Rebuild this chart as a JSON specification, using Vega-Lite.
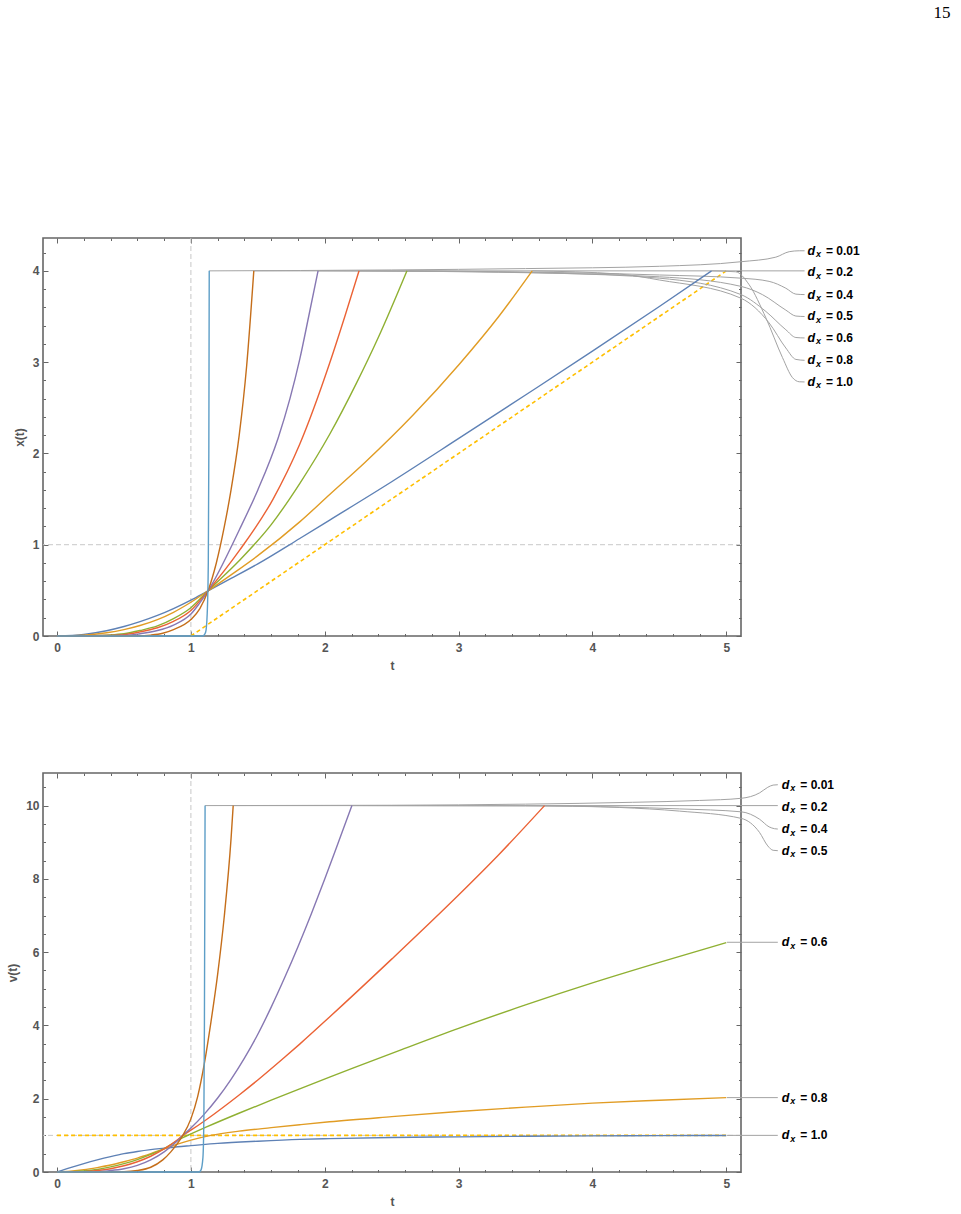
{
"$schema": "https://vega.github.io/schema/vega-lite/v6.json",
"background": "white",
"padding": {"left": 5, "top": 4, "right": 5, "bottom": 5},
"title": {"text": "15", "anchor": "end", "frame": "bounds", "font": "Liberation Serif", "fontSize": 17, "fontWeight": "normal", "color": "#000", "offset": 214.5, "dx": 90},
"config": {
  "view": {"stroke": "#666", "strokeWidth": 1.6},
  "axis": {"domain": false, "grid": false, "tickColor": "#666", "tickWidth": 1, "labelFont": "Liberation Sans", "labelFontSize": 12, "labelFontWeight": "bold", "labelColor": "#555", "titleFont": "Liberation Sans", "titleFontSize": 12, "titleFontWeight": "bold", "titleColor": "#555", "labelFlush": false, "labelOverlap": false}
},
"datasets": {
  "xt": [
    {"d":"1.0","t":0,"x":0},{"d":"1.0","t":0.2,"x":0.018},{"d":"1.0","t":0.37,"x":0.058},{"d":"1.0","t":0.5,"x":0.104},{"d":"1.0","t":0.62,"x":0.157},{"d":"1.0","t":0.75,"x":0.225},{"d":"1.0","t":0.87,"x":0.3},{"d":"1.0","t":1.0,"x":0.393},{"d":"1.0","t":1.128,"x":0.495},{"d":"1.0","t":1.3,"x":0.63},{"d":"1.0","t":1.5,"x":0.79},{"d":"1.0","t":1.813,"x":1.068},{"d":"1.0","t":2.037,"x":1.27},{"d":"1.0","t":2.5,"x":1.69},{"d":"1.0","t":3.007,"x":2.17},{"d":"1.0","t":3.5,"x":2.64},{"d":"1.0","t":4.0,"x":3.12},{"d":"1.0","t":4.5,"x":3.61},{"d":"1.0","t":4.89,"x":4.0},
    {"d":"0.8","t":0,"x":0},{"d":"0.8","t":0.2,"x":0.008},{"d":"0.8","t":0.37,"x":0.035},{"d":"0.8","t":0.5,"x":0.07},{"d":"0.8","t":0.62,"x":0.115},{"d":"0.8","t":0.75,"x":0.18},{"d":"0.8","t":0.87,"x":0.26},{"d":"0.8","t":1.0,"x":0.37},{"d":"0.8","t":1.128,"x":0.495},{"d":"0.8","t":1.3,"x":0.67},{"d":"0.8","t":1.5,"x":0.88},{"d":"0.8","t":1.813,"x":1.25},{"d":"0.8","t":2.037,"x":1.55},{"d":"0.8","t":2.3,"x":1.9},{"d":"0.8","t":2.66,"x":2.42},{"d":"0.8","t":3.007,"x":2.98},{"d":"0.8","t":3.3,"x":3.5},{"d":"0.8","t":3.55,"x":4.0},
    {"d":"0.6","t":0,"x":0},{"d":"0.6","t":0.2,"x":0.001},{"d":"0.6","t":0.37,"x":0.01},{"d":"0.6","t":0.5,"x":0.025},{"d":"0.6","t":0.62,"x":0.06},{"d":"0.6","t":0.75,"x":0.11},{"d":"0.6","t":0.87,"x":0.19},{"d":"0.6","t":1.0,"x":0.31},{"d":"0.6","t":1.128,"x":0.495},{"d":"0.6","t":1.364,"x":0.83},{"d":"0.6","t":1.6,"x":1.22},{"d":"0.6","t":1.813,"x":1.67},{"d":"0.6","t":2.037,"x":2.21},{"d":"0.6","t":2.237,"x":2.77},{"d":"0.6","t":2.4,"x":3.27},{"d":"0.6","t":2.614,"x":4.0},
    {"d":"0.5","t":0,"x":0},{"d":"0.5","t":0.37,"x":0.005},{"d":"0.5","t":0.5,"x":0.015},{"d":"0.5","t":0.62,"x":0.045},{"d":"0.5","t":0.75,"x":0.09},{"d":"0.5","t":0.87,"x":0.16},{"d":"0.5","t":1.0,"x":0.28},{"d":"0.5","t":1.128,"x":0.495},{"d":"0.5","t":1.364,"x":0.94},{"d":"0.5","t":1.614,"x":1.5},{"d":"0.5","t":1.813,"x":2.1},{"d":"0.5","t":2.037,"x":2.99},{"d":"0.5","t":2.15,"x":3.5},{"d":"0.5","t":2.256,"x":4.0},
    {"d":"0.4","t":0,"x":0},{"d":"0.4","t":0.5,"x":0.005},{"d":"0.4","t":0.62,"x":0.025},{"d":"0.4","t":0.75,"x":0.06},{"d":"0.4","t":0.87,"x":0.12},{"d":"0.4","t":1.0,"x":0.24},{"d":"0.4","t":1.06,"x":0.35},{"d":"0.4","t":1.128,"x":0.495},{"d":"0.4","t":1.364,"x":1.17},{"d":"0.4","t":1.5,"x":1.6},{"d":"0.4","t":1.652,"x":2.17},{"d":"0.4","t":1.74,"x":2.6},{"d":"0.4","t":1.813,"x":3.03},{"d":"0.4","t":1.88,"x":3.5},{"d":"0.4","t":1.95,"x":4.0},
    {"d":"0.2","t":0,"x":0},{"d":"0.2","t":0.6,"x":0.002},{"d":"0.2","t":0.7,"x":0.01},{"d":"0.2","t":0.79,"x":0.03},{"d":"0.2","t":0.87,"x":0.07},{"d":"0.2","t":1.0,"x":0.18},{"d":"0.2","t":1.067,"x":0.3},{"d":"0.2","t":1.128,"x":0.495},{"d":"0.2","t":1.19,"x":0.8},{"d":"0.2","t":1.25,"x":1.2},{"d":"0.2","t":1.3,"x":1.6},{"d":"0.2","t":1.361,"x":2.2},{"d":"0.2","t":1.416,"x":2.95},{"d":"0.2","t":1.47,"x":4.0},
    {"d":"0.01","t":0,"x":0},{"d":"0.01","t":1.09,"x":0},{"d":"0.01","t":1.11,"x":0.04},{"d":"0.01","t":1.122,"x":0.25},{"d":"0.01","t":1.13,"x":0.8},{"d":"0.01","t":1.134,"x":2.0},{"d":"0.01","t":1.137,"x":4.0}
  ],
  "xd": [{"t":1,"x":0},{"t":5,"x":4}],
  "callx": [
    {"d":"0.01","t":1.137,"y":4.0},{"d":"0.01","t":2.5,"y":4.01},{"d":"0.01","t":3.5,"y":4.025},{"d":"0.01","t":4.5,"y":4.05},{"d":"0.01","t":5.11,"y":4.1},{"d":"0.01","t":5.37,"y":4.15},{"d":"0.01","t":5.47,"y":4.21},{"d":"0.01","t":5.545,"y":4.22},{"d":"0.01","t":5.585,"y":4.22},
    {"d":"0.2","t":1.47,"y":4.0},{"d":"0.2","t":5.585,"y":4.0},
    {"d":"0.4","t":1.95,"y":4.0},{"d":"0.4","t":3.3,"y":3.99},{"d":"0.4","t":4.5,"y":3.955},{"d":"0.4","t":5.11,"y":3.92},{"d":"0.4","t":5.32,"y":3.885},{"d":"0.4","t":5.445,"y":3.81},{"d":"0.4","t":5.52,"y":3.745},{"d":"0.4","t":5.585,"y":3.74},
    {"d":"0.5","t":2.256,"y":4.0},{"d":"0.5","t":3.3,"y":3.985},{"d":"0.5","t":4.5,"y":3.935},{"d":"0.5","t":5.11,"y":3.83},{"d":"0.5","t":5.27,"y":3.74},{"d":"0.5","t":5.445,"y":3.57},{"d":"0.5","t":5.52,"y":3.505},{"d":"0.5","t":5.585,"y":3.5},
    {"d":"0.6","t":2.614,"y":4.0},{"d":"0.6","t":3.7,"y":3.975},{"d":"0.6","t":4.5,"y":3.92},{"d":"0.6","t":5.11,"y":3.74},{"d":"0.6","t":5.296,"y":3.555},{"d":"0.6","t":5.445,"y":3.355},{"d":"0.6","t":5.52,"y":3.27},{"d":"0.6","t":5.585,"y":3.265},
    {"d":"0.8","t":3.55,"y":4.0},{"d":"0.8","t":4.2,"y":3.965},{"d":"0.8","t":4.5,"y":3.9},{"d":"0.8","t":5.11,"y":3.7},{"d":"0.8","t":5.32,"y":3.43},{"d":"0.8","t":5.445,"y":3.155},{"d":"0.8","t":5.52,"y":3.03},{"d":"0.8","t":5.585,"y":3.02},
    {"d":"1.0","t":4.89,"y":4.0},{"d":"1.0","t":5.07,"y":3.99},{"d":"1.0","t":5.17,"y":3.85},{"d":"1.0","t":5.296,"y":3.485},{"d":"1.0","t":5.42,"y":3.05},{"d":"1.0","t":5.495,"y":2.83},{"d":"1.0","t":5.545,"y":2.785},{"d":"1.0","t":5.585,"y":2.783}
  ],
  "labx": [
    {"d":"0.01","t":5.606,"y":4.22,"lab":"= 0.01"},{"d":"0.2","t":5.606,"y":3.983,"lab":"= 0.2"},{"d":"0.4","t":5.606,"y":3.739,"lab":"= 0.4"},{"d":"0.5","t":5.606,"y":3.501,"lab":"= 0.5"},{"d":"0.6","t":5.606,"y":3.265,"lab":"= 0.6"},{"d":"0.8","t":5.606,"y":3.02,"lab":"= 0.8"},{"d":"1.0","t":5.606,"y":2.783,"lab":"= 1.0"}
  ],
  "vt": [
    {"d":"1.0","t":0,"v":0},{"d":"1.0","t":0.1,"v":0.12},{"d":"1.0","t":0.2,"v":0.23},{"d":"1.0","t":0.3,"v":0.33},{"d":"1.0","t":0.4,"v":0.42},{"d":"1.0","t":0.5,"v":0.5},{"d":"1.0","t":0.6,"v":0.56},{"d":"1.0","t":0.7,"v":0.61},{"d":"1.0","t":0.8,"v":0.65},{"d":"1.0","t":0.9,"v":0.69},{"d":"1.0","t":1.0,"v":0.72},{"d":"1.0","t":1.2,"v":0.78},{"d":"1.0","t":1.5,"v":0.84},{"d":"1.0","t":1.813,"v":0.89},{"d":"1.0","t":2.036,"v":0.91},{"d":"1.0","t":2.5,"v":0.94},{"d":"1.0","t":3,"v":0.96},{"d":"1.0","t":3.5,"v":0.975},{"d":"1.0","t":4,"v":0.985},{"d":"1.0","t":4.5,"v":0.992},{"d":"1.0","t":5,"v":0.997},
    {"d":"0.8","t":0,"v":0},{"d":"0.8","t":0.1,"v":0.02},{"d":"0.8","t":0.2,"v":0.06},{"d":"0.8","t":0.3,"v":0.12},{"d":"0.8","t":0.4,"v":0.19},{"d":"0.8","t":0.5,"v":0.28},{"d":"0.8","t":0.6,"v":0.38},{"d":"0.8","t":0.7,"v":0.5},{"d":"0.8","t":0.8,"v":0.63},{"d":"0.8","t":0.9,"v":0.76},{"d":"0.8","t":1.0,"v":0.87},{"d":"0.8","t":1.15,"v":1.0},{"d":"0.8","t":1.36,"v":1.115},{"d":"0.8","t":1.6,"v":1.21},{"d":"0.8","t":1.813,"v":1.29},{"d":"0.8","t":2.036,"v":1.37},{"d":"0.8","t":2.5,"v":1.51},{"d":"0.8","t":3.0,"v":1.65},{"d":"0.8","t":3.5,"v":1.77},{"d":"0.8","t":4.0,"v":1.88},{"d":"0.8","t":4.5,"v":1.96},{"d":"0.8","t":5.0,"v":2.03},
    {"d":"0.6","t":0,"v":0},{"d":"0.6","t":0.1,"v":0.005},{"d":"0.6","t":0.2,"v":0.03},{"d":"0.6","t":0.3,"v":0.07},{"d":"0.6","t":0.4,"v":0.14},{"d":"0.6","t":0.5,"v":0.23},{"d":"0.6","t":0.6,"v":0.34},{"d":"0.6","t":0.7,"v":0.48},{"d":"0.6","t":0.8,"v":0.64},{"d":"0.6","t":0.9,"v":0.86},{"d":"0.6","t":0.94,"v":0.94},{"d":"0.6","t":1.0,"v":1.04},{"d":"0.6","t":1.117,"v":1.23},{"d":"0.6","t":1.363,"v":1.61},{"d":"0.6","t":1.6,"v":1.96},{"d":"0.6","t":1.813,"v":2.27},{"d":"0.6","t":2.036,"v":2.59},{"d":"0.6","t":2.21,"v":2.835},{"d":"0.6","t":2.56,"v":3.32},{"d":"0.6","t":3.0,"v":3.92},{"d":"0.6","t":3.5,"v":4.56},{"d":"0.6","t":4.0,"v":5.16},{"d":"0.6","t":4.5,"v":5.72},{"d":"0.6","t":5.0,"v":6.26},
    {"d":"0.5","t":0,"v":0},{"d":"0.5","t":0.2,"v":0.01},{"d":"0.5","t":0.3,"v":0.04},{"d":"0.5","t":0.4,"v":0.09},{"d":"0.5","t":0.5,"v":0.17},{"d":"0.5","t":0.6,"v":0.28},{"d":"0.5","t":0.7,"v":0.43},{"d":"0.5","t":0.8,"v":0.63},{"d":"0.5","t":0.9,"v":0.88},{"d":"0.5","t":0.94,"v":1.0},{"d":"0.5","t":1.0,"v":1.141},{"d":"0.5","t":1.117,"v":1.434},{"d":"0.5","t":1.363,"v":2.11},{"d":"0.5","t":1.5,"v":2.51},{"d":"0.5","t":1.7,"v":3.13},{"d":"0.5","t":1.813,"v":3.49},{"d":"0.5","t":2.036,"v":4.23},{"d":"0.5","t":2.5,"v":5.81},{"d":"0.5","t":3.0,"v":7.56},{"d":"0.5","t":3.3,"v":8.66},{"d":"0.5","t":3.642,"v":10.0},
    {"d":"0.4","t":0,"v":0},{"d":"0.4","t":0.3,"v":0.01},{"d":"0.4","t":0.4,"v":0.04},{"d":"0.4","t":0.5,"v":0.09},{"d":"0.4","t":0.6,"v":0.18},{"d":"0.4","t":0.7,"v":0.33},{"d":"0.4","t":0.8,"v":0.55},{"d":"0.4","t":0.9,"v":0.85},{"d":"0.4","t":0.94,"v":1.0},{"d":"0.4","t":1.0,"v":1.2},{"d":"0.4","t":1.1,"v":1.58},{"d":"0.4","t":1.2,"v":2.02},{"d":"0.4","t":1.3,"v":2.53},{"d":"0.4","t":1.4,"v":3.11},{"d":"0.4","t":1.5,"v":3.76},{"d":"0.4","t":1.6,"v":4.5},{"d":"0.4","t":1.7,"v":5.3},{"d":"0.4","t":1.8,"v":6.15},{"d":"0.4","t":1.9,"v":7.05},{"d":"0.4","t":2.0,"v":8.0},{"d":"0.4","t":2.1,"v":8.98},{"d":"0.4","t":2.203,"v":10.0},
    {"d":"0.2","t":0,"v":0},{"d":"0.2","t":0.4,"v":0},{"d":"0.2","t":0.5,"v":0.005},{"d":"0.2","t":0.6,"v":0.04},{"d":"0.2","t":0.7,"v":0.13},{"d":"0.2","t":0.79,"v":0.33},{"d":"0.2","t":0.85,"v":0.55},{"d":"0.2","t":0.9,"v":0.78},{"d":"0.2","t":0.94,"v":1.0},{"d":"0.2","t":1.0,"v":1.45},{"d":"0.2","t":1.05,"v":2.05},{"d":"0.2","t":1.1,"v":2.95},{"d":"0.2","t":1.15,"v":4.1},{"d":"0.2","t":1.2,"v":5.4},{"d":"0.2","t":1.25,"v":7.0},{"d":"0.2","t":1.3,"v":9.1},{"d":"0.2","t":1.316,"v":10.0},
    {"d":"0.01","t":0,"v":0},{"d":"0.01","t":1.06,"v":0},{"d":"0.01","t":1.075,"v":0.05},{"d":"0.01","t":1.09,"v":0.4},{"d":"0.01","t":1.097,"v":1.5},{"d":"0.01","t":1.101,"v":4.0},{"d":"0.01","t":1.106,"v":10.0}
  ],
  "vd": [{"t":0,"v":1},{"t":5,"v":1}],
  "callv": [
    {"d":"0.01","t":1.106,"y":10.0},{"d":"0.01","t":2.5,"y":10.01},{"d":"0.01","t":3.5,"y":10.04},{"d":"0.01","t":4.3,"y":10.09},{"d":"0.01","t":4.8,"y":10.14},{"d":"0.01","t":5.113,"y":10.2},{"d":"0.01","t":5.25,"y":10.35},{"d":"0.01","t":5.31,"y":10.5},{"d":"0.01","t":5.35,"y":10.56},{"d":"0.01","t":5.385,"y":10.57},
    {"d":"0.2","t":1.316,"y":10.0},{"d":"0.2","t":5.385,"y":10.0},
    {"d":"0.4","t":2.203,"y":10.0},{"d":"0.4","t":3.5,"y":9.99},{"d":"0.4","t":4.2,"y":9.96},{"d":"0.4","t":4.65,"y":9.91},{"d":"0.4","t":5.113,"y":9.83},{"d":"0.4","t":5.248,"y":9.63},{"d":"0.4","t":5.32,"y":9.42},{"d":"0.4","t":5.36,"y":9.37},{"d":"0.4","t":5.385,"y":9.36},
    {"d":"0.5","t":3.642,"y":10.0},{"d":"0.5","t":4.2,"y":9.95},{"d":"0.5","t":4.65,"y":9.85},{"d":"0.5","t":5.113,"y":9.65},{"d":"0.5","t":5.248,"y":9.27},{"d":"0.5","t":5.31,"y":8.9},{"d":"0.5","t":5.35,"y":8.78},{"d":"0.5","t":5.385,"y":8.77},
    {"d":"0.6","t":5.005,"y":6.27},{"d":"0.6","t":5.385,"y":6.27},
    {"d":"0.8","t":5.005,"y":2.03},{"d":"0.8","t":5.385,"y":2.03},
    {"d":"1.0","t":5.005,"y":1.0},{"d":"1.0","t":5.385,"y":1.0}
  ],
  "labv": [
    {"d":"0.01","t":5.415,"y":10.57,"lab":"= 0.01"},{"d":"0.2","t":5.415,"y":9.97,"lab":"= 0.2"},{"d":"0.4","t":5.415,"y":9.36,"lab":"= 0.4"},{"d":"0.5","t":5.415,"y":8.77,"lab":"= 0.5"},{"d":"0.6","t":5.415,"y":6.27,"lab":"= 0.6"},{"d":"0.8","t":5.415,"y":2.03,"lab":"= 0.8"},{"d":"1.0","t":5.415,"y":1.0,"lab":"= 1.0"}
  ]
},
"spacing": 98,
"vconcat": [
  {
    "width": 698, "height": 398,
    "resolve": {"axis": {"x": "independent", "y": "independent"}},
    "layer": [
      {"data": {"values": [{}]}, "mark": {"type": "rule", "color": "#c8c8c8", "strokeDash": [5, 3], "strokeWidth": 1},
       "encoding": {"x": {"datum": 1, "type": "quantitative", "scale": {"domain": [-0.105, 5.11], "nice": false, "zero": false},
         "axis": {"orient": "bottom", "values": [0,0.2,0.4,0.6,0.8,1,1.2,1.4,1.6,1.8,2,2.2,2.4,2.6,2.8,3,3.2,3.4,3.6,3.8,4,4.2,4.4,4.6,4.8,5], "labelExpr": "abs(datum.value-round(datum.value))<0.001 ? format(datum.value,'d') : ''", "tickSize": {"condition": {"test": "abs(datum.value-round(datum.value))<0.001", "value": -5}, "value": -2.5}, "labelPadding": 11, "title": "t", "titlePadding": 5}}}},
      {"data": {"values": [{}]}, "mark": {"type": "rule", "color": "#c8c8c8", "strokeDash": [5, 3], "strokeWidth": 1},
       "encoding": {"y": {"datum": 1, "type": "quantitative", "scale": {"domain": [0, 4.36], "nice": false, "zero": false},
         "axis": {"orient": "left", "values": [0,0.2,0.4,0.6,0.8,1,1.2,1.4,1.6,1.8,2,2.2,2.4,2.6,2.8,3,3.2,3.4,3.6,3.8,4,4.2], "labelExpr": "abs(datum.value-round(datum.value))<0.001 ? format(datum.value,'d') : ''", "tickSize": {"condition": {"test": "abs(datum.value-round(datum.value))<0.001", "value": -5}, "value": -2.5}, "labelPadding": 9, "title": "x(t)", "titlePadding": 6}}}},
      {"data": {"name": "xd"}, "mark": {"type": "line", "color": "#FFBF00", "strokeDash": [4, 3], "strokeWidth": 1.6},
       "encoding": {"x": {"field": "t", "type": "quantitative", "scale": {"domain": [-0.105, 5.11], "nice": false, "zero": false}, "axis": null},
                    "y": {"field": "x", "type": "quantitative", "scale": {"domain": [0, 4.36], "nice": false, "zero": false}, "axis": null}}},
      {"data": {"name": "callx"}, "mark": {"type": "line", "color": "#a3a3a3", "strokeWidth": 1, "interpolate": "monotone", "clip": false},
       "encoding": {"x": {"field": "t", "type": "quantitative", "scale": {"domain": [-0.105, 5.11], "nice": false, "zero": false}, "axis": null},
                    "y": {"field": "y", "type": "quantitative", "scale": {"domain": [0, 4.36], "nice": false, "zero": false}, "axis": null},
                    "detail": {"field": "d", "type": "nominal"}}},
      {"data": {"name": "xt"}, "mark": {"type": "line", "strokeWidth": 1.4, "interpolate": "monotone"},
       "encoding": {"x": {"field": "t", "type": "quantitative", "scale": {"domain": [-0.105, 5.11], "nice": false, "zero": false},
                      "axis": {"orient": "top", "values": [0,0.2,0.4,0.6,0.8,1,1.2,1.4,1.6,1.8,2,2.2,2.4,2.6,2.8,3,3.2,3.4,3.6,3.8,4,4.2,4.4,4.6,4.8,5], "labels": false, "title": null, "tickSize": {"condition": {"test": "abs(datum.value-round(datum.value))<0.001", "value": -5}, "value": -2.5}}},
                    "y": {"field": "x", "type": "quantitative", "scale": {"domain": [0, 4.36], "nice": false, "zero": false},
                      "axis": {"orient": "right", "values": [0,0.2,0.4,0.6,0.8,1,1.2,1.4,1.6,1.8,2,2.2,2.4,2.6,2.8,3,3.2,3.4,3.6,3.8,4,4.2], "labels": false, "title": null, "tickSize": {"condition": {"test": "abs(datum.value-round(datum.value))<0.001", "value": -5}, "value": -2.5}}},
                    "color": {"field": "d", "type": "nominal", "scale": {"domain": ["1.0","0.8","0.6","0.5","0.4","0.2","0.01"], "range": ["#5E81B5","#E19C24","#8FB032","#EB6235","#8778B3","#C56E1A","#5D9EC7"]}, "legend": null}}},
      {"data": {"name": "labx"}, "mark": {"type": "text", "text": "d", "font": "Liberation Sans", "fontSize": 12.5, "fontWeight": "bold", "fontStyle": "italic", "align": "left", "baseline": "middle", "clip": false, "color": "#000"},
       "encoding": {"x": {"field": "t", "type": "quantitative", "scale": {"domain": [-0.105, 5.11], "nice": false, "zero": false}, "axis": null},
                    "y": {"field": "y", "type": "quantitative", "scale": {"domain": [0, 4.36], "nice": false, "zero": false}, "axis": null}}},
      {"data": {"name": "labx"}, "mark": {"type": "text", "text": "x", "font": "Liberation Sans", "fontSize": 9, "fontWeight": "bold", "fontStyle": "italic", "align": "left", "baseline": "middle", "dx": 8.5, "dy": 3.5, "clip": false, "color": "#000"},
       "encoding": {"x": {"field": "t", "type": "quantitative", "scale": {"domain": [-0.105, 5.11], "nice": false, "zero": false}, "axis": null},
                    "y": {"field": "y", "type": "quantitative", "scale": {"domain": [0, 4.36], "nice": false, "zero": false}, "axis": null}}},
      {"data": {"name": "labx"}, "mark": {"type": "text", "font": "Liberation Sans", "fontSize": 12, "fontWeight": "bold", "align": "left", "baseline": "middle", "dx": 18.5, "clip": false, "color": "#000"},
       "encoding": {"x": {"field": "t", "type": "quantitative", "scale": {"domain": [-0.105, 5.11], "nice": false, "zero": false}, "axis": null},
                    "y": {"field": "y", "type": "quantitative", "scale": {"domain": [0, 4.36], "nice": false, "zero": false}, "axis": null},
                    "text": {"field": "lab", "type": "nominal"}}}
    ]
  },
  {
    "width": 698, "height": 399,
    "resolve": {"axis": {"x": "independent", "y": "independent"}},
    "layer": [
      {"data": {"values": [{}]}, "mark": {"type": "rule", "color": "#c8c8c8", "strokeDash": [5, 3], "strokeWidth": 1},
       "encoding": {"x": {"datum": 1, "type": "quantitative", "scale": {"domain": [-0.105, 5.11], "nice": false, "zero": false},
         "axis": {"orient": "bottom", "values": [0,0.2,0.4,0.6,0.8,1,1.2,1.4,1.6,1.8,2,2.2,2.4,2.6,2.8,3,3.2,3.4,3.6,3.8,4,4.2,4.4,4.6,4.8,5], "labelExpr": "abs(datum.value-round(datum.value))<0.001 ? format(datum.value,'d') : ''", "tickSize": {"condition": {"test": "abs(datum.value-round(datum.value))<0.001", "value": -5}, "value": -2.5}, "labelPadding": 11, "title": "t", "titlePadding": 5}}}},
      {"data": {"values": [{}]}, "mark": {"type": "rule", "color": "#c8c8c8", "strokeDash": [5, 3], "strokeWidth": 1},
       "encoding": {"y": {"datum": 1, "type": "quantitative", "scale": {"domain": [0, 10.89], "nice": false, "zero": false},
         "axis": {"orient": "left", "values": [0,0.5,1,1.5,2,2.5,3,3.5,4,4.5,5,5.5,6,6.5,7,7.5,8,8.5,9,9.5,10,10.5], "labelExpr": "datum.value % 2 === 0 ? format(datum.value,'d') : ''", "tickSize": {"condition": {"test": "datum.value % 2 === 0", "value": -5}, "value": -2.5}, "labelPadding": 9, "title": "v(t)", "titlePadding": 6}}}},
      {"data": {"name": "vd"}, "mark": {"type": "line", "color": "#FFBF00", "strokeDash": [4, 3], "strokeWidth": 1.6},
       "encoding": {"x": {"field": "t", "type": "quantitative", "scale": {"domain": [-0.105, 5.11], "nice": false, "zero": false}, "axis": null},
                    "y": {"field": "v", "type": "quantitative", "scale": {"domain": [0, 10.89], "nice": false, "zero": false}, "axis": null}}},
      {"data": {"name": "callv"}, "mark": {"type": "line", "color": "#a3a3a3", "strokeWidth": 1, "interpolate": "monotone", "clip": false},
       "encoding": {"x": {"field": "t", "type": "quantitative", "scale": {"domain": [-0.105, 5.11], "nice": false, "zero": false}, "axis": null},
                    "y": {"field": "y", "type": "quantitative", "scale": {"domain": [0, 10.89], "nice": false, "zero": false}, "axis": null},
                    "detail": {"field": "d", "type": "nominal"}}},
      {"data": {"name": "vt"}, "mark": {"type": "line", "strokeWidth": 1.4, "interpolate": "monotone"},
       "encoding": {"x": {"field": "t", "type": "quantitative", "scale": {"domain": [-0.105, 5.11], "nice": false, "zero": false},
                      "axis": {"orient": "top", "values": [0,0.2,0.4,0.6,0.8,1,1.2,1.4,1.6,1.8,2,2.2,2.4,2.6,2.8,3,3.2,3.4,3.6,3.8,4,4.2,4.4,4.6,4.8,5], "labels": false, "title": null, "tickSize": {"condition": {"test": "abs(datum.value-round(datum.value))<0.001", "value": -5}, "value": -2.5}}},
                    "y": {"field": "v", "type": "quantitative", "scale": {"domain": [0, 10.89], "nice": false, "zero": false},
                      "axis": {"orient": "right", "values": [0,0.5,1,1.5,2,2.5,3,3.5,4,4.5,5,5.5,6,6.5,7,7.5,8,8.5,9,9.5,10,10.5], "labels": false, "title": null, "tickSize": {"condition": {"test": "datum.value % 2 === 0", "value": -5}, "value": -2.5}}},
                    "color": {"field": "d", "type": "nominal", "scale": {"domain": ["1.0","0.8","0.6","0.5","0.4","0.2","0.01"], "range": ["#5E81B5","#E19C24","#8FB032","#EB6235","#8778B3","#C56E1A","#5D9EC7"]}, "legend": null}}},
      {"data": {"name": "labv"}, "mark": {"type": "text", "text": "d", "font": "Liberation Sans", "fontSize": 12.5, "fontWeight": "bold", "fontStyle": "italic", "align": "left", "baseline": "middle", "clip": false, "color": "#000"},
       "encoding": {"x": {"field": "t", "type": "quantitative", "scale": {"domain": [-0.105, 5.11], "nice": false, "zero": false}, "axis": null},
                    "y": {"field": "y", "type": "quantitative", "scale": {"domain": [0, 10.89], "nice": false, "zero": false}, "axis": null}}},
      {"data": {"name": "labv"}, "mark": {"type": "text", "text": "x", "font": "Liberation Sans", "fontSize": 9, "fontWeight": "bold", "fontStyle": "italic", "align": "left", "baseline": "middle", "dx": 8.5, "dy": 3.5, "clip": false, "color": "#000"},
       "encoding": {"x": {"field": "t", "type": "quantitative", "scale": {"domain": [-0.105, 5.11], "nice": false, "zero": false}, "axis": null},
                    "y": {"field": "y", "type": "quantitative", "scale": {"domain": [0, 10.89], "nice": false, "zero": false}, "axis": null}}},
      {"data": {"name": "labv"}, "mark": {"type": "text", "font": "Liberation Sans", "fontSize": 12, "fontWeight": "bold", "align": "left", "baseline": "middle", "dx": 18.5, "clip": false, "color": "#000"},
       "encoding": {"x": {"field": "t", "type": "quantitative", "scale": {"domain": [-0.105, 5.11], "nice": false, "zero": false}, "axis": null},
                    "y": {"field": "y", "type": "quantitative", "scale": {"domain": [0, 10.89], "nice": false, "zero": false}, "axis": null},
                    "text": {"field": "lab", "type": "nominal"}}}
    ]
  }
]
}
